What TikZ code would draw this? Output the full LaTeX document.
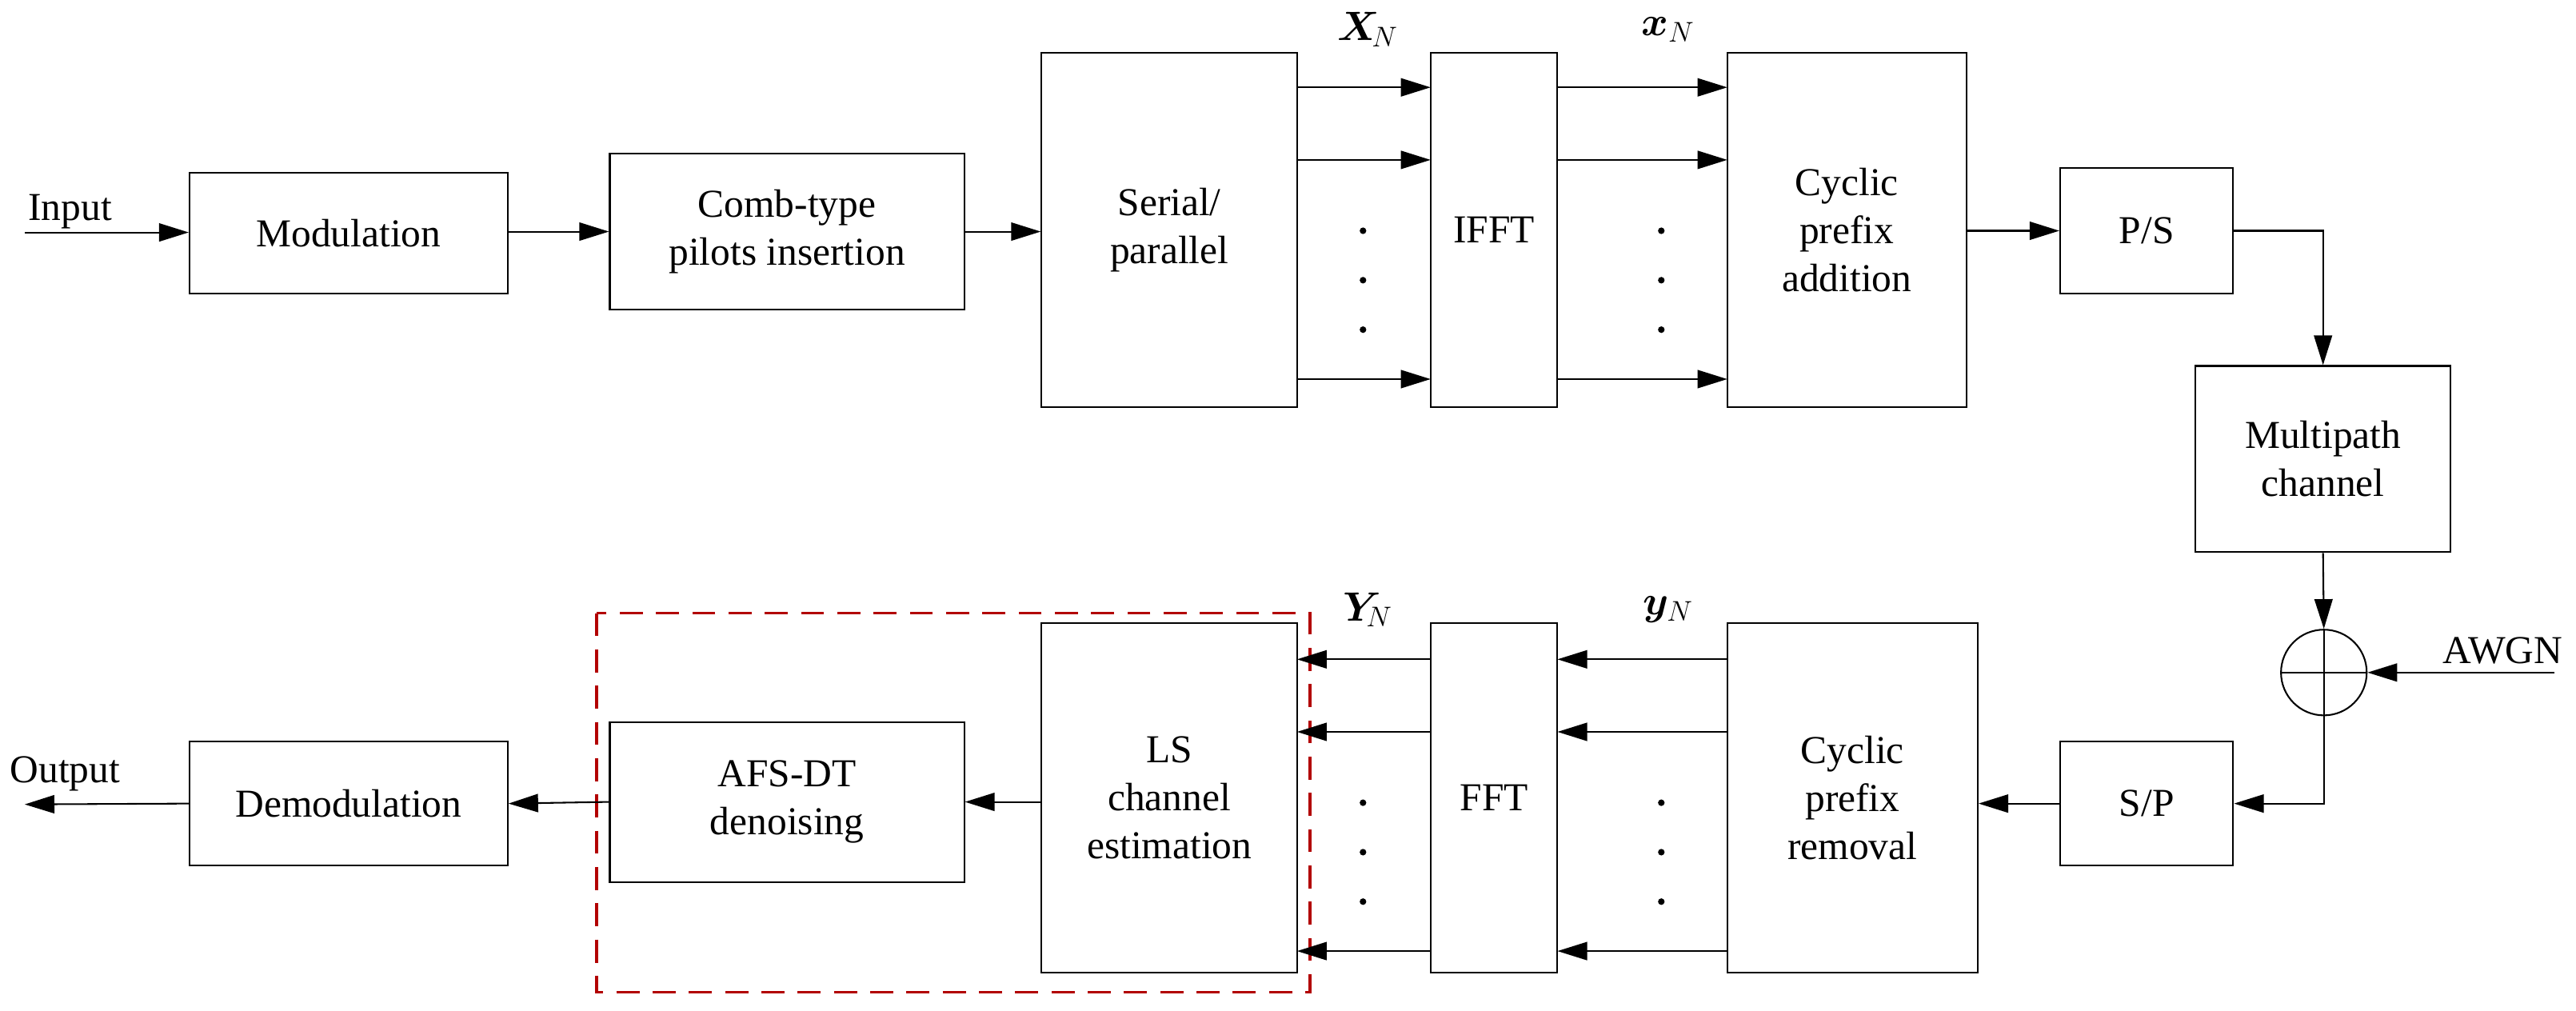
\documentclass[tikz,border=0pt]{standalone}
\usepackage{amsmath,bm}
\usepackage{fontspec}
\setmainfont{Liberation Serif}
\usetikzlibrary{arrows.meta}
\begin{document}
\begin{tikzpicture}[x=1pt,y=-1pt,
  box/.style={draw,line width=1pt,align=center,font=\fontsize{24}{29}\selectfont},
  ar/.style={line width=1pt,-{Triangle[length=18pt,width=11pt]}},
  ln/.style={line width=1pt},
  lab/.style={font=\fontsize{26}{30}\selectfont}]
\useasboundingbox (0,0) rectangle (1563,613);
\def\bx#1#2#3#4#5#6{\node[box,minimum width=#4-#2,minimum height=#5-#3,inner sep=0] (#1) at ({(#2+#4)/2},{(#3+#5)/2}) {#6};}
\bx{mod}{115}{105}{308}{178}{Modulation}
\bx{comb}{370}{93}{585}{188}{Comb-type\\pilots insertion}
\bx{sp}{632}{32}{787}{247}{Serial/\\parallel}
\bx{ifft}{868}{32}{945}{247}{IFFT}
\bx{cpa}{1048}{32}{1193}{247}{Cyclic\\prefix\\addition}
\bx{ps}{1250}{102}{1355}{178}{P/S}
\bx{mp}{1332}{222}{1487}{335}{Multipath\\channel}
\node[draw,circle,line width=1pt,minimum size=52pt,inner sep=0] (sum) at (1410,408) {};
\draw[ln] (sum.north)--(sum.south) (sum.west)--(sum.east);
\bx{s2p}{1250}{450}{1355}{525}{S/P}
\bx{cpr}{1048}{378}{1200}{590}{Cyclic\\prefix\\removal}
\bx{fft}{868}{378}{945}{590}{FFT}
\bx{ls}{632}{378}{787}{590}{LS\\channel\\estimation}
\bx{afs}{370}{438}{585}{535}{AFS-DT\\denoising}
\bx{dem}{115}{450}{308}{525}{Demodulation}
\draw[red!70!black,line width=1.8pt,dash pattern=on 14pt off 8pt] (362,372) rectangle (795,602);
\node[font=\fontsize{24}{29}\selectfont,anchor=south west,inner sep=2pt] (inp) at (15,141) {Input};
\coordinate (inL) at (15,141);
\draw[ar] (inL)--(mod.west|-inL);
\draw[ar] (mod.east|-comb)--(comb.west);
\draw[ar] (comb.east)--(sp.west|-comb);
\foreach \y in {53,97,230}{
 \draw[ar] (787,\y)--(868,\y);
 \draw[ar] (945,\y)--(1048,\y);
 \draw[ar] (1048,{\y+347})--(945,{\y+347});
 \draw[ar] (868,{\y+347})--(787,{\y+347});}
\foreach \x in {827,1008}{\foreach \y in {140,170,200}{
 \fill (\x,\y) circle (2pt); \fill (\x,\y+347) circle (2pt);}}
\node[lab] (XN) at (830,18) {$\bm{X}_{\!N}$};
\node[lab] (xN) at (1012,18) {$\bm{x}_{N}$};
\node[lab] (YN) at (830,370) {$\bm{Y}_{\!N}$};
\node[lab] (yN) at (1012,370) {$\bm{y}_{N}$};
\draw[ar] (cpa.east|-ps)--(ps.west);
\draw[ar] (ps.east)-|(mp.north);
\draw[ar] (mp.south)--(sum.north);
\coordinate (aw) at (1550,408);
\node[font=\fontsize{24}{29}\selectfont,anchor=south east,inner sep=1pt] (awgn) at (1556,404) {AWGN};
\draw[ar] (aw)--(sum.east);
\draw[ar] (sum.south)|-(s2p.east);
\draw[ar] (s2p.west)--(cpr.east|-s2p);
\draw[ar] (ls.west|-afs)--(afs.east);
\draw[ar] (afs.west)--(dem.east);
\coordinate (out) at (15,488);
\draw[ar] (dem.west)--(out);
\node[font=\fontsize{24}{29}\selectfont,anchor=south west,inner sep=1pt] (outt) at (5,481) {Output};
\end{tikzpicture}
\end{document}
